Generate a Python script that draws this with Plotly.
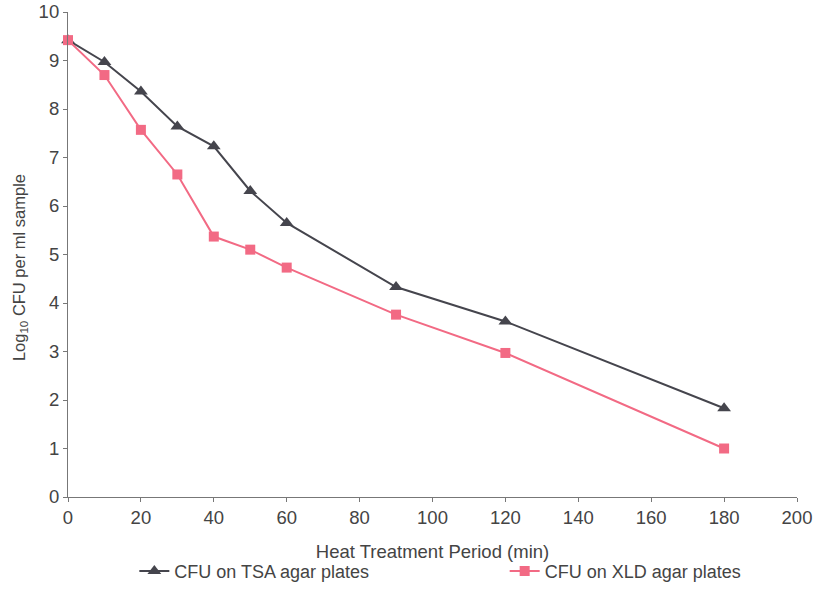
import plotly.graph_objects as go

time_min = [0, 10, 20, 30, 40, 50, 60, 90, 120, 180]
tsa_log = [9.42, 8.97, 8.36, 7.64, 7.23, 6.31, 5.65, 4.33, 3.62, 1.83]
xld_log = [9.42, 8.70, 7.57, 6.65, 5.37, 5.10, 4.73, 3.76, 2.97, 1.00]

tsa_name = "CFU on TSA agar plates"
xld_name = "CFU on XLD agar plates"
x_title = "Heat Treatment Period (min)"
y_title = "Log<sub>10</sub> CFU per ml sample"

fig = go.Figure()
fig.add_trace(go.Scatter(
    x=time_min, y=tsa_log, name=tsa_name, mode="lines+markers",
    line=dict(color="#45454d", width=2),
    marker=dict(symbol="triangle-up", size=12, color="#45454d"),
    cliponaxis=False, legend="legend",
))
fig.add_trace(go.Scatter(
    x=time_min, y=xld_log, name=xld_name, mode="lines+markers",
    line=dict(color="#f26a84", width=2),
    marker=dict(symbol="square", size=10, color="#f26a84"),
    cliponaxis=False, legend="legend2",
))

axis_font = dict(family="Liberation Sans, Arial, sans-serif", size=18.5, color="#444")
leg_common = dict(y=-0.153, yanchor="middle", xanchor="left",
                  font=dict(size=18, color="#444"), itemwidth=30, bgcolor="rgba(0,0,0,0)")
fig.update_layout(
    width=821, height=608,
    margin=dict(l=68, r=24, t=12, b=111),
    paper_bgcolor="white", plot_bgcolor="white",
    font=dict(family="Liberation Sans, Arial, sans-serif", size=18, color="#444"),
    showlegend=True,
    legend=dict(x=0.091, **leg_common),
    legend2=dict(x=0.599, **leg_common),
    annotations=[dict(
        text=y_title, textangle=-90, xref="paper", yref="paper",
        x=0, xshift=-48, y=0.472, xanchor="center", yanchor="middle",
        showarrow=False, font=dict(size=16.5, color="#444"),
    )],
)
fig.update_xaxes(
    range=[0, 200], tickvals=list(range(0, 201, 20)),
    showline=True, linecolor="#777", linewidth=1.2,
    ticks="outside", ticklen=4, tickcolor="#777",
    showgrid=False, zeroline=False, tickfont=axis_font, automargin=False,
    title=dict(text=x_title, font=dict(size=18.5, color="#444"), standoff=17),
)
fig.update_yaxes(
    range=[0, 10], tickvals=list(range(0, 11)),
    showline=True, linecolor="#777", linewidth=1.2,
    ticks="outside", ticklen=4, tickcolor="#777",
    showgrid=False, zeroline=False, tickfont=axis_font, automargin=False,
)
fig.write_html("out.html", config={"displayModeBar": False},
               post_script="document.body.style.margin='0';")
